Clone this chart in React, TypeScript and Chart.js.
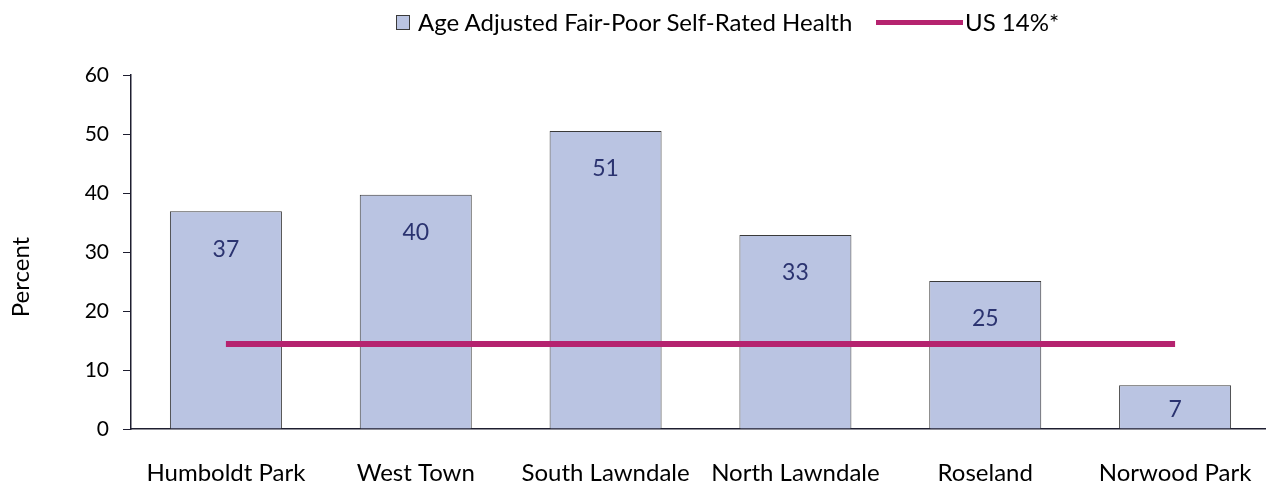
import React, { useEffect, useRef } from "react";
import { Chart, registerables } from "chart.js";

Chart.register(...registerables);

const categories = ["Humboldt Park", "West Town", "South Lawndale", "North Lawndale", "Roseland", "Norwood Park"];
const fairPoorValues = [36.9, 39.7, 50.5, 32.9, 25.1, 7.4];
const fairPoorLabels = ["37", "40", "51", "33", "25", "7"];
const usValue = 14.4;
const usLine = categories.map(() => usValue);
const yTicks = [0, 10, 20, 30, 40, 50, 60];

const seriesName = "Age Adjusted Fair-Poor Self-Rated Health";
const lineName = "US 14%*";
const yTitle = "Percent";

const FONT = "Lato, 'Open Sans', sans-serif";
const BAR_FILL = "#BAC4E2";
const LINE_COLOR = "#B5236F";
const LABEL_COLOR = "#2B3370";
const AXIS_COLOR = "#1E1E30";

const valueLabelPlugin = {
  id: "valueLabels",
  afterDatasetsDraw(chart: any) {
    const meta = chart.getDatasetMeta(0);
    const ctx = chart.ctx;
    ctx.save();
    ctx.font = `23px ${FONT}`;
    ctx.fillStyle = LABEL_COLOR;
    ctx.textAlign = "center";
    ctx.textBaseline = "middle";
    meta.data.forEach((bar: any, i: number) => {
      const h = bar.base - bar.y;
      const off = Math.min(38, h / 2 + 3);
      ctx.fillText(fairPoorLabels[i], bar.x, bar.y + off);
    });
    ctx.restore();
  },
};

const yTitlePlugin = {
  id: "yTitle",
  afterDraw(chart: any) {
    const ctx = chart.ctx;
    ctx.save();
    ctx.translate(21, 277);
    ctx.rotate(-Math.PI / 2);
    ctx.font = `24px ${FONT}`;
    ctx.fillStyle = "#000";
    ctx.textAlign = "center";
    ctx.textBaseline = "middle";
    ctx.fillText(yTitle, 0, 0);
    ctx.restore();
  },
};

export default function App() {
  const ref = useRef<HTMLCanvasElement>(null);

  useEffect(() => {
    if (!ref.current) return;
    const chart = new Chart(ref.current, {
      type: "bar",
      data: {
        labels: categories,
        datasets: [
          {
            type: "bar",
            label: seriesName,
            data: fairPoorValues,
            backgroundColor: BAR_FILL,
            borderColor: "#3A3A3A",
            borderWidth: 1,
            barPercentage: 0.59,
            categoryPercentage: 1,
            order: 2,
          },
          {
            type: "line",
            label: lineName,
            data: usLine,
            borderColor: LINE_COLOR,
            borderWidth: 6,
            pointRadius: 0,
            fill: false,
            order: 1,
          } as any,
        ],
      },
      options: {
        responsive: false,
        animation: false,
        layout: { padding: { top: 75, right: 2, left: 0, bottom: 0 } },
        plugins: {
          legend: { display: false },
          tooltip: { enabled: false },
        },
        scales: {
          x: {
            grid: { display: false, drawTicks: false },
            border: { display: true, color: AXIS_COLOR, width: 1.5 },
            ticks: { color: "#000", font: { family: FONT, size: 24 }, padding: 30, maxRotation: 0, autoSkip: false },
            afterFit: (s: any) => { s.height = 56; s.paddingLeft = 0; s.paddingRight = 0; },
          },
          y: {
            min: 0,
            max: 60,
            afterBuildTicks: (s: any) => { s.ticks = yTicks.map((v) => ({ value: v })); },
            grid: { drawOnChartArea: false, drawTicks: true, tickLength: 8, color: AXIS_COLOR },
            border: { display: true, color: AXIS_COLOR, width: 1.5 },
            ticks: { color: "#000", font: { family: FONT, size: 21 }, padding: 14 },
            afterFit: (s: any) => { s.width = 131; s.paddingTop = 0; s.paddingBottom = 0; },
          },
        },
      },
      plugins: [valueLabelPlugin, yTitlePlugin],
    });
    return () => chart.destroy();
  }, []);

  return (
    <div style={{ position: "fixed", left: 0, top: 0, width: 1266, height: 485, overflow: "hidden", background: "#fff" }}>
      <canvas ref={ref} width={1272} height={485} style={{ position: "absolute", left: 0, top: 0, width: 1272, height: 485 }} />
      <div style={{ position: "absolute", left: 396, top: 15, width: 12, height: 13, background: BAR_FILL, border: "1px solid #3A3A3A" }} />
      <div style={{ position: "absolute", left: 418, top: 7, fontFamily: FONT, fontSize: 24, color: "#000", whiteSpace: "nowrap", lineHeight: "30px" }}>{seriesName}</div>
      <div style={{ position: "absolute", left: 876, top: 20, width: 87, height: 5, background: LINE_COLOR }} />
      <div style={{ position: "absolute", left: 965, top: 7, fontFamily: FONT, fontSize: 24, color: "#000", whiteSpace: "nowrap", lineHeight: "30px" }}>{lineName}</div>
    </div>
  );
}
